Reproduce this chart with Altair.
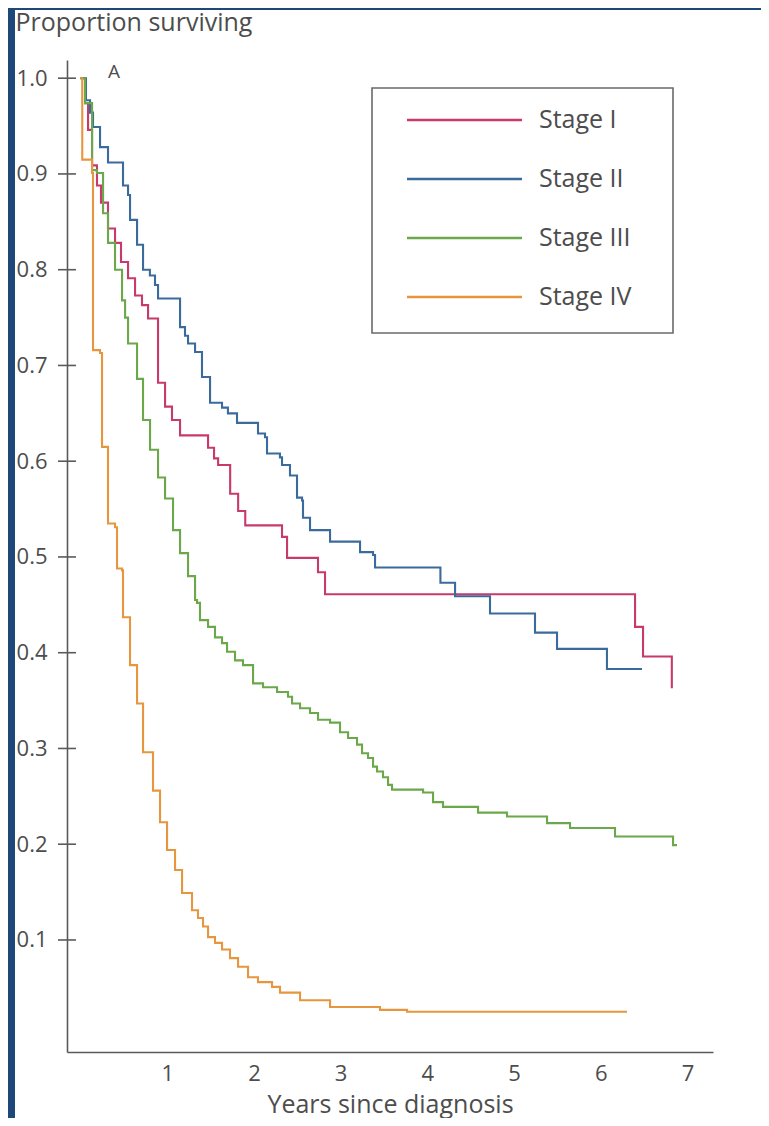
import altair as alt
import pandas as pd

stages = ["Stage I", "Stage II", "Stage III", "Stage IV"]
colors = ["#c8396c", "#3b6b9c", "#6aa84a", "#e6963f"]

# (years, proportion surviving) step points
stage1 = [(0, 1.0), (0.052, 0.974), (0.087, 0.946), (0.133, 0.909), (0.19, 0.888),
          (0.236, 0.870), (0.317, 0.843), (0.398, 0.828), (0.467, 0.808), (0.548, 0.791),
          (0.629, 0.773), (0.709, 0.763), (0.779, 0.749), (0.894, 0.682), (0.975, 0.657),
          (1.055, 0.643), (1.148, 0.627), (1.471, 0.614), (1.54, 0.603), (1.587, 0.596),
          (1.726, 0.566), (1.818, 0.548), (1.90, 0.533), (2.324, 0.521), (2.382, 0.499),
          (2.739, 0.484), (2.82, 0.461), (6.396, 0.427), (6.488, 0.396), (6.82, 0.363)]
stage2 = [(0, 1.0), (0.063, 0.977), (0.11, 0.964), (0.144, 0.949), (0.225, 0.928),
          (0.317, 0.912), (0.49, 0.888), (0.548, 0.878), (0.571, 0.852), (0.652, 0.826),
          (0.721, 0.800), (0.80, 0.794), (0.859, 0.784), (0.894, 0.770), (1.148, 0.740),
          (1.205, 0.731), (1.24, 0.723), (1.321, 0.714), (1.401, 0.688), (1.494, 0.661),
          (1.632, 0.656), (1.70, 0.650), (1.805, 0.640), (2.047, 0.629), (2.128, 0.625),
          (2.151, 0.608), (2.30, 0.604), (2.324, 0.596), (2.416, 0.585), (2.497, 0.562),
          (2.555, 0.559), (2.566, 0.541), (2.647, 0.528), (2.878, 0.516), (3.224, 0.505),
          (3.374, 0.502), (3.397, 0.489), (4.151, 0.473), (4.32, 0.459), (4.723, 0.441),
          (5.242, 0.421), (5.496, 0.404), (6.072, 0.383), (6.476, 0.383)]
stage3 = [(0, 1.0), (0.052, 0.974), (0.133, 0.904), (0.19, 0.901), (0.26, 0.859),
          (0.317, 0.828), (0.398, 0.800), (0.479, 0.768), (0.514, 0.750), (0.548, 0.723),
          (0.652, 0.686), (0.721, 0.643), (0.802, 0.612), (0.894, 0.583), (0.975, 0.561),
          (1.067, 0.528), (1.148, 0.504), (1.24, 0.480), (1.321, 0.455), (1.344, 0.452),
          (1.378, 0.434), (1.471, 0.427), (1.551, 0.416), (1.632, 0.410), (1.69, 0.401),
          (1.782, 0.392), (1.874, 0.387), (1.99, 0.368), (2.105, 0.364), (2.267, 0.359),
          (2.393, 0.354), (2.44, 0.347), (2.532, 0.342), (2.647, 0.337), (2.739, 0.330),
          (2.878, 0.327), (2.993, 0.317), (3.086, 0.311), (3.189, 0.304), (3.247, 0.295),
          (3.316, 0.290), (3.374, 0.281), (3.42, 0.276), (3.489, 0.270), (3.547, 0.262),
          (3.593, 0.257), (3.951, 0.254), (4.066, 0.244), (4.181, 0.239), (4.585, 0.233),
          (4.919, 0.229), (5.381, 0.222), (5.646, 0.217), (6.165, 0.208), (6.834, 0.199),
          (6.88, 0.199)]
stage4 = [(0, 1.0), (0.02, 0.915), (0.133, 0.901), (0.144, 0.716), (0.225, 0.713),
          (0.248, 0.615), (0.317, 0.535), (0.398, 0.531), (0.421, 0.488), (0.479, 0.486),
          (0.49, 0.437), (0.571, 0.387), (0.652, 0.347), (0.721, 0.296), (0.836, 0.256),
          (0.917, 0.223), (0.998, 0.194), (1.09, 0.173), (1.171, 0.149), (1.286, 0.131),
          (1.355, 0.123), (1.413, 0.114), (1.471, 0.103), (1.551, 0.097), (1.632, 0.090),
          (1.724, 0.081), (1.817, 0.072), (1.932, 0.061), (2.047, 0.056), (2.209, 0.051),
          (2.301, 0.045), (2.532, 0.037), (2.878, 0.030), (3.454, 0.027), (3.766, 0.025),
          (6.303, 0.025)]

x_ticks = [1, 2, 3, 4, 5, 6, 7]
y_ticks = [0.1, 0.2, 0.3, 0.4, 0.5, 0.6, 0.7, 0.8, 0.9, 1.0]

rows = []
for name, series in zip(stages, [stage1, stage2, stage3, stage4]):
    for i, (t, s) in enumerate(series):
        rows.append({"stage": name, "t": t, "s": s, "i": i})
df = pd.DataFrame(rows)

FONT = "Open Sans"
TXT = "#4d4d4d"
AX = "#5a5a5a"
W, H = 646, 992
ydom = [-0.017, 1.019]
xdom = [-0.156, 7.295]
color_scale = alt.Scale(domain=stages, range=colors)

one = pd.DataFrame({"k": [0]})

strips = alt.Chart(one).mark_rect(color="#1e487a").encode(
    x=alt.value(-59), x2=alt.value(-52), y=alt.value(-52), y2=alt.value(H + 66))
strip_top = alt.Chart(one).mark_rect(color="#1e487a").encode(
    x=alt.value(-59), x2=alt.value(W + 48), y=alt.value(-52), y2=alt.value(-50))

legend_box = alt.Chart(one).mark_rect(fill="white", stroke="#6a6a6a", strokeWidth=1.6).encode(
    x=alt.value(305), x2=alt.value(606), y=alt.value(28), y2=alt.value(273))

curves = alt.Chart(df).mark_line(interpolate="step-after", strokeWidth=2.1).encode(
    x=alt.X("t:Q", scale=alt.Scale(domain=xdom, nice=False, zero=False),
            axis=alt.Axis(values=x_ticks, format="d", ticks=False, tickSize=0, grid=False,
                          labelPadding=11, labelFontSize=22, labelColor=TXT, labelFont=FONT,
                          domainColor=AX, domainWidth=1.6,
                          title="Years since diagnosis", titleFont=FONT, titleFontSize=25,
                          titleFontWeight="normal", titleColor=TXT, titleY=60,
                          titleBaseline="alphabetic", zindex=1)),
    y=alt.Y("s:Q", scale=alt.Scale(domain=ydom, nice=False, zero=False),
            axis=alt.Axis(values=y_ticks, format=".1f", ticks=False, tickSize=0, grid=False,
                          labelPadding=20, labelFontSize=22, labelColor=TXT, labelFont=FONT,
                          domainColor=AX, domainWidth=1.6,
                          title="Proportion surviving", titleFont=FONT, titleFontSize=25,
                          titleFontWeight="normal", titleColor=TXT, titleAngle=0,
                          titleAlign="left", titleBaseline="alphabetic", titleX=-52,
                          titleY=-30, zindex=1)),
    color=alt.Color("stage:N", scale=color_scale, legend=None),
    order="i:Q",
    detail="stage:N",
)

tick_df = pd.DataFrame({"v": y_ticks})
tick_rules = alt.Chart(tick_df).mark_rule(color=AX, strokeWidth=1.6).encode(
    y=alt.Y("v:Q", scale=alt.Scale(domain=ydom, nice=False, zero=False), axis=None),
    x=alt.value(-9), x2=alt.value(9))

leg_df = pd.DataFrame({"stage": stages})
leg_y = alt.Y("stage:N", scale=alt.Scale(type="point", domain=stages, range=[60, 237], padding=0),
              axis=None)
leg_lines = alt.Chart(leg_df).mark_rule(strokeWidth=2.6).encode(
    y=leg_y, x=alt.value(340), x2=alt.value(455),
    color=alt.Color("stage:N", scale=color_scale, legend=None))
leg_text = alt.Chart(leg_df).mark_text(align="left", baseline="middle", font=FONT,
                                       fontSize=25, color=TXT).encode(
    y=leg_y, x=alt.value(472), text="stage:N")

panel = alt.Chart(pd.DataFrame({"lab": ["A"]})).mark_text(
    font=FONT, fontSize=19, color=TXT, align="center", baseline="alphabetic").encode(
    x=alt.value(47), y=alt.value(18), text="lab:N")

chart = alt.layer(
    strips, strip_top, legend_box, curves, tick_rules, leg_lines, leg_text, panel
).resolve_scale(y="independent").properties(
    width=W, height=H,
    autosize=alt.AutoSizeParams(type="none"),
    padding={"left": 59, "top": 52, "right": 48, "bottom": 66},
    background="white",
).configure_view(stroke=None)

chart.save("out.html", embed_options={"renderer": "svg", "actions": False})
